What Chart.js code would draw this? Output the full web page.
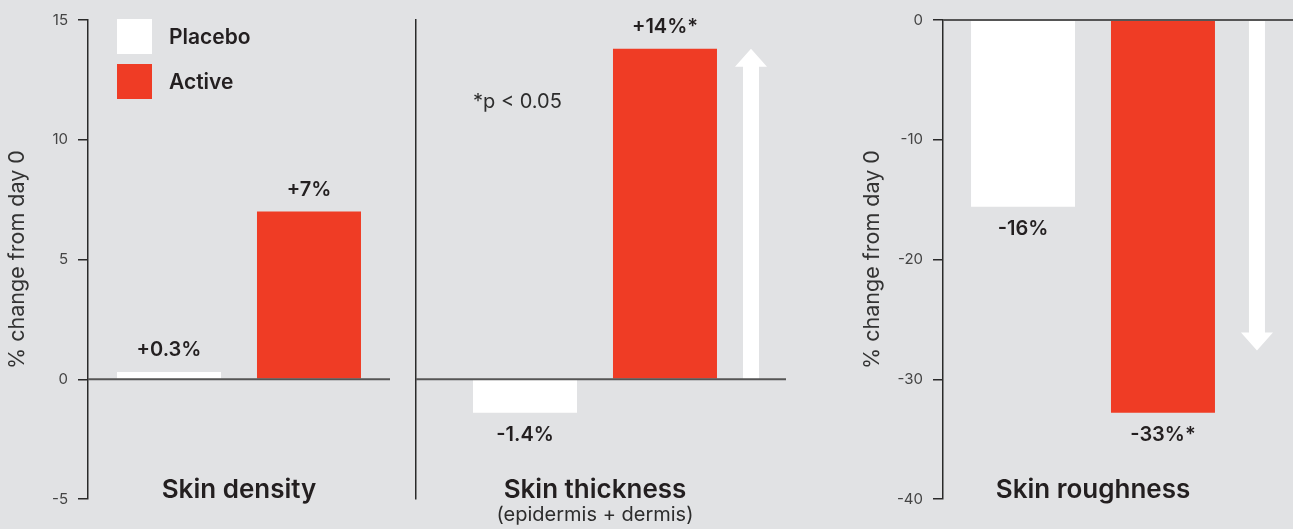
<!DOCTYPE html>
<html>
<head>
<meta charset="utf-8">
<title>Skin density, thickness and roughness</title>
<script src="https://cdn.jsdelivr.net/npm/chart.js@4.4.0/dist/chart.umd.min.js"></script>
<style>
  html, body { margin: 0; padding: 0; background: #e1e2e4; }
  #wrap { position: relative; width: 1293px; height: 529px; overflow: hidden; font-family: Inter, sans-serif; }
  #wrap canvas { position: absolute; left: 0; top: 0; }
  #legend { position: absolute; left: 117px; top: 19px; }
  .item { display: flex; align-items: center; height: 35px; line-height: 35px; margin-bottom: 10px;
          font-size: 21px; font-weight: 600; color: #231f20; }
  .swatch { width: 35px; height: 35px; margin-right: 17px; }
  #note { position: absolute; left: 473px; top: 91px; font-size: 20px; line-height: 20px; color: #2d2d2d; }
</style>
</head>
<body>
<div id="wrap">
  <canvas id="density" width="1293" height="529"></canvas>
  <canvas id="thickness" width="1293" height="529"></canvas>
  <canvas id="roughness" width="1293" height="529"></canvas>
  <div id="legend"></div>
  <div id="note"></div>
</div>
<script>
const categories = ['Skin density', 'Skin thickness', 'Skin roughness'];
const subLabels = ['', '(epidermis + dermis)', ''];
const seriesNames = ['Placebo', 'Active'];
const seriesColors = ['#ffffff', '#ef3c25'];
const placeboValues = [0.3, -1.4, -15.6];
const activeValues = [7, 13.8, -32.8];
const placeboLabels = ['+0.3%', '-1.4%', '-16%'];
const activeLabels = ['+7%', '+14%*', '-33%*'];
const leftTicks = [-5, 0, 5, 10, 15];
const rightTicks = [-40, -30, -20, -10, 0];
const yTitle = '% change from day 0';
const noteText = '*p < 0.05';

const textColor = '#231f20';
const axisColor = '#2a2a2a';

// legend + footnote as plain html
const legendEl = document.getElementById('legend');
seriesNames.forEach((name, i) => {
  const item = document.createElement('div');
  item.className = 'item';
  item.innerHTML = '<span class="swatch" style="background:' + seriesColors[i] + '"></span>' + name;
  legendEl.appendChild(item);
});
document.getElementById('note').textContent = noteText;

// zero line, arrows and value labels on top of the bars
const decor = {
  id: 'decor',
  afterDatasetsDraw(chart, args, opts) {
    const ctx = chart.ctx;
    const area = chart.chartArea;
    const y = chart.scales.y;
    const zy = y.getPixelForValue(0);
    ctx.save();

    if (opts.arrowTip !== undefined) {
      const active = chart.getDatasetMeta(1).data[0];
      const cx = active.x + active.width / 2 + opts.arrowGap;
      const tip = y.getPixelForValue(opts.arrowTip);
      const dir = tip < zy ? 1 : -1;
      const base = tip + dir * 18;
      ctx.fillStyle = '#ffffff';
      ctx.beginPath();
      ctx.moveTo(cx - 8, zy);
      ctx.lineTo(cx - 8, base);
      ctx.lineTo(cx - 16, base);
      ctx.lineTo(cx, tip);
      ctx.lineTo(cx + 16, base);
      ctx.lineTo(cx + 8, base);
      ctx.lineTo(cx + 8, zy);
      ctx.closePath();
      ctx.fill();
    }

    ctx.strokeStyle = '#555555';
    ctx.lineWidth = 2;
    ctx.beginPath();
    ctx.moveTo(area.left, zy);
    ctx.lineTo(area.right + (opts.zeroExtend || 0), zy);
    ctx.stroke();

    ctx.font = '600 20px Inter';
    ctx.fillStyle = textColor;
    ctx.textAlign = 'center';
    ctx.textBaseline = 'middle';
    chart.data.datasets.forEach((ds, di) => {
      chart.getDatasetMeta(di).data.forEach((bar, i) => {
        const v = ds.data[i];
        ctx.fillText(ds.valueLabels[i], bar.x, v >= 0 ? bar.y - 22 : bar.y + 22);
      });
    });
    ctx.restore();
  }
};

function makeChart(id, i, o) {
  const seriesValues = [placeboValues, activeValues];
  const seriesLabels = [placeboLabels, activeLabels];
  const ticks = o.ticks;
  return new Chart(document.getElementById(id), {
    type: 'bar',
    data: {
      labels: [categories[i]],
      datasets: seriesNames.map((name, s) => ({
        label: name,
        data: [seriesValues[s][i]],
        valueLabels: [seriesLabels[s][i]],
        backgroundColor: seriesColors[s],
        borderWidth: 0,
        barPercentage: 0.743,
        categoryPercentage: o.catPct
      }))
    },
    options: {
      responsive: false,
      animation: false,
      events: [],
      layout: { padding: { left: o.left, right: 1293 - o.right, top: 20, bottom: subLabels[i] ? 0 : 30 } },
      plugins: {
        legend: { display: false },
        tooltip: { enabled: false },
        decor: { arrowTip: o.arrowTip, arrowGap: o.arrowGap, zeroExtend: o.zeroExtend }
      },
      scales: {
        x: {
          grid: { display: false, drawTicks: false },
          border: { display: false },
          ticks: {
            mirror: true,
            padding: 0,
            maxRotation: 0,
            color: textColor,
            font: { family: 'Inter', size: 26, weight: '600', lineHeight: 0.68 }
          },
          title: {
            display: !!subLabels[i],
            text: subLabels[i],
            color: '#2d2d2d',
            font: { family: 'Inter', size: 20 },
            padding: { top: 4, bottom: 2 }
          }
        },
        y: {
          min: ticks[0],
          max: ticks[ticks.length - 1],
          ticks: {
            display: o.axis,
            stepSize: ticks[1] - ticks[0],
            padding: 10,
            color: '#444444',
            font: { family: 'Inter', size: 15 }
          },
          grid: { drawOnChartArea: false, drawTicks: o.axis, tickLength: 10, color: axisColor, lineWidth: 1.5 },
          border: { color: axisColor, width: 1.5 },
          title: {
            display: o.axis,
            text: yTitle,
            color: '#333333',
            font: { family: 'Inter', size: 21.5 },
            padding: { top: 5, bottom: 0 }
          },
          afterFit: s => { s.width = o.axisWidth; }
        }
      }
    },
    plugins: [decor]
  });
}

makeChart('density', 0, { left: 0, axisWidth: 88, right: 390, catPct: 0.927, ticks: leftTicks, axis: true });
makeChart('thickness', 1, { left: 416, axisWidth: 0, right: 774, catPct: 0.782, ticks: leftTicks, axis: false,
  arrowTip: 13.8, arrowGap: 34, zeroExtend: 12 });
makeChart('roughness', 2, { left: 855, axisWidth: 88, right: 1243, catPct: 0.933, ticks: rightTicks, axis: true,
  arrowTip: -27.6, arrowGap: 42, zeroExtend: 50 });
</script>
</body>
</html>
